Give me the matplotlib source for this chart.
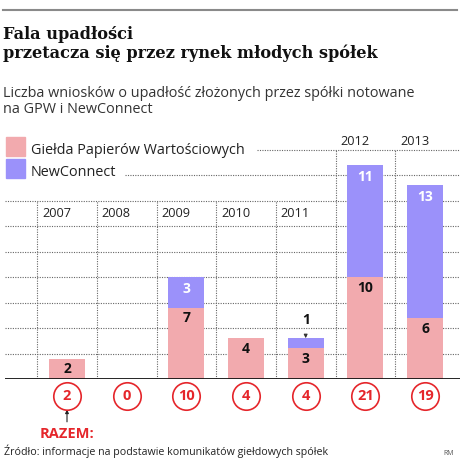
import numpy as np
import matplotlib
matplotlib.use("Agg")
import matplotlib.pyplot as plt
from matplotlib.patches import Rectangle

# Data
years = ["2007", "2008", "2009", "2010", "2011", "2012", "2013"]
gpw = [2, 0, 7, 4, 3, 10, 6]
newconnect = [0, 0, 3, 0, 1, 11, 13]

PINK = "#F2AAAE"
BLUE = "#9B91FA"
RED = "#E5262B"
GRID = "#666666"
SANS = "Open Sans"

W, H = 470, 466
fig = plt.figure(figsize=(W / 100, H / 100), dpi=100)


def fx(px):
    return px / W


def fy(py):
    return 1 - py / H


# chart area in pixels
base_px = 379
unit_px = 10.2
ytop = 24.5
x0_px, step_px = 67, 59.67
left_px, right_px = 5, 460

ax = fig.add_axes([fx(left_px), fy(base_px), fx(right_px) - fx(left_px),
                   ytop * unit_px / H])
ax.set_xlim((left_px - x0_px) / step_px, (right_px - x0_px) / step_px)
ax.set_ylim(0, ytop)
ax.axis("off")

x = np.arange(len(years))
gpw = np.array(gpw)
newconnect = np.array(newconnect)
total = gpw + newconnect

# dotted grid
dots = dict(color=GRID, linestyle=(0, (1, 1.2)), linewidth=0.8, zorder=1)
for lvl in np.arange(2.5, 17.6, 2.5):
    ax.axhline(lvl, **dots)
ax.axhline(20, xmin=(125 - left_px) / (right_px - left_px), **dots)
ax.axhline(22.5, xmin=(257 - left_px) / (right_px - left_px), **dots)

for i in range(len(years)):
    top = 17.5 if i < 5 else 22.5
    ax.plot([i - 0.5, i - 0.5], [0, top], **dots)
    lab_y = 15.9 if i < 5 else 22.9
    ax.text(i - 0.5 + 0.08, lab_y, years[i], fontsize=9.2, family=SANS,
            color="#222222", ha="left", va="baseline")

# bars
ax.bar(x, gpw, width=0.6, color=PINK, zorder=2)
ax.bar(x, newconnect, width=0.6, bottom=gpw, color=BLUE, zorder=2)
ax.axhline(0, color="#111111", linewidth=2, zorder=3)

for i in x:
    if gpw[i] > 0:
        ax.text(i, gpw[i] - 1.05, str(gpw[i]), ha="center", va="center",
                fontsize=10, fontweight="bold", family=SANS, color="#111111",
                zorder=4)
    if newconnect[i] >= 2:
        ax.text(i, total[i] - 1.15, str(newconnect[i]), ha="center",
                va="center", fontsize=10, fontweight="bold", family=SANS,
                color="white", zorder=4)
    elif newconnect[i] == 1:
        ax.annotate(str(newconnect[i]), xy=(i, total[i]),
                    xytext=(i, total[i] + 1.75), ha="center", va="center",
                    fontsize=10, fontweight="bold", family=SANS,
                    color="#111111",
                    arrowprops=dict(arrowstyle="-|>", color="#333333",
                                    lw=0.8, mutation_scale=5,
                                    shrinkA=4, shrinkB=0))

# totals in circles
circ_y = -1.67
ax.scatter(x, np.full(len(x), circ_y), s=390, facecolor="white",
           edgecolor=RED, linewidth=1.2, clip_on=False, zorder=5)
for i in x:
    ax.text(i, circ_y, str(total[i]), ha="center", va="center", fontsize=10.5,
            fontweight="bold", family=SANS, color=RED, clip_on=False,
            zorder=6)
ax.annotate("", xy=(0, -3.0), xytext=(0, -4.2),
            arrowprops=dict(arrowstyle="-|>", color="#222222", lw=0.8,
                            mutation_scale=5, shrinkA=0, shrinkB=0),
            annotation_clip=False)

# header
fig.add_artist(plt.Line2D([fx(3), fx(457)], [fy(10), fy(10)],
                          color="#8a8a8a", linewidth=1.5))
fig.text(fx(3), fy(39), "Fala upadłości", family="DejaVu Serif",
         fontweight="bold", fontsize=11.6, color="#111111", va="baseline")
fig.text(fx(3), fy(58), "przetacza się przez rynek młodych spółek",
         family="DejaVu Serif", fontweight="bold", fontsize=11.6,
         color="#111111", va="baseline")
fig.text(fx(3), fy(97),
         "Liczba wniosków o upadłość złożonych przez spółki notowane",
         family=SANS, fontsize=10.4, color="#333333", va="baseline")
fig.text(fx(3), fy(113), "na GPW i NewConnect", family=SANS, fontsize=10.4,
         color="#333333", va="baseline")

# legend
fig.add_artist(Rectangle((fx(6), fy(156)), fx(19), 19 / H, color=PINK,
                         transform=fig.transFigure))
fig.add_artist(Rectangle((fx(6), fy(178)), fx(19), 19 / H, color=BLUE,
                         transform=fig.transFigure))
fig.text(fx(31), fy(154), "Giełda Papierów Wartościowych", family=SANS,
         fontsize=10.4, color="#222222", va="baseline")
fig.text(fx(31), fy(176), "NewConnect", family=SANS, fontsize=10.4,
         color="#222222", va="baseline")

# footer
fig.text(fx(40), fy(438), "RAZEM:", family=SANS, fontweight="bold",
         fontsize=10.5, color=RED, va="baseline")
fig.text(fx(4), fy(455),
         "Źródło: informacje na podstawie komunikatów giełdowych spółek",
         family=SANS, fontsize=7.7, color="#222222", va="baseline")
fig.text(fx(443), fy(455), "RM", family=SANS, fontsize=5, color="#555555",
         va="baseline")

fig.savefig("out.png", dpi=100, facecolor="white")
